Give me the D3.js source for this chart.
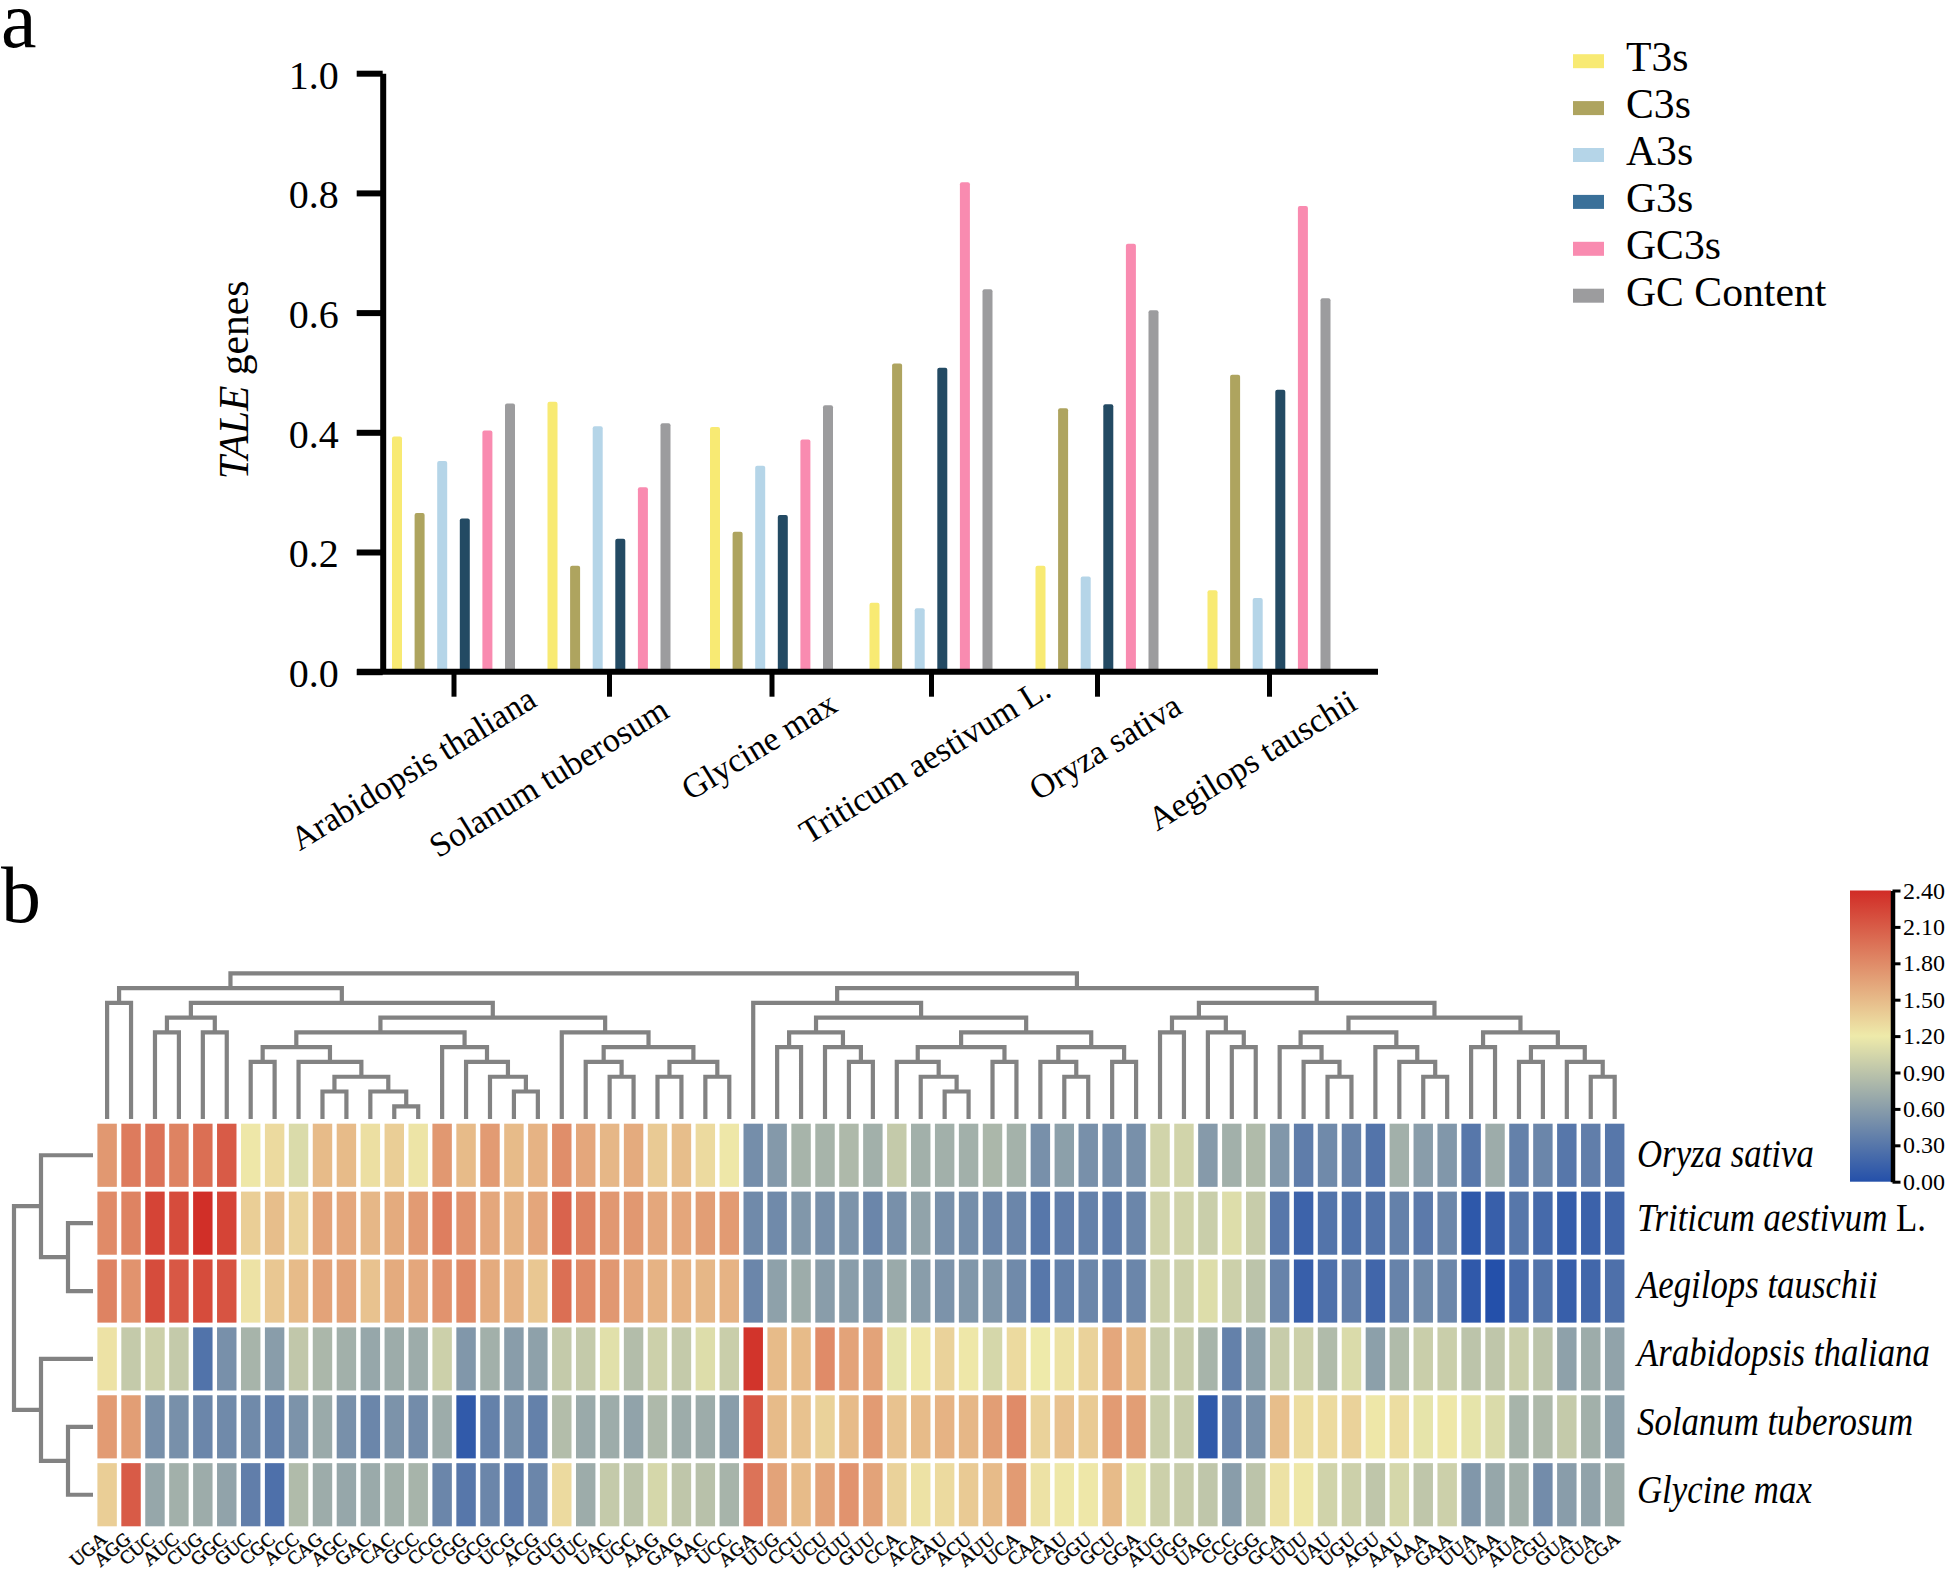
<!DOCTYPE html>
<html>
<head>
<meta charset="utf-8">
<title>TALE genes codon usage</title>
<script src="https://d3js.org/d3.v7.min.js"></script>
<style>
  body { margin: 0; background: #fff; }
  svg { display: block; }
  text { font-family: "Liberation Serif", serif; fill: #000; }
</style>
</head>
<body>
<div id="chart"></div>
<script>
// panel a
var species = ["Arabidopsis thaliana", "Solanum tuberosum", "Glycine max", "Triticum aestivum L.", "Oryza sativa", "Aegilops tauschii"];
var seriesNames = ["T3s", "C3s", "A3s", "G3s", "GC3s", "GC Content"];
var t3s = [0.393, 0.451, 0.409, 0.115, 0.177, 0.136];
var c3s = [0.265, 0.177, 0.234, 0.515, 0.44, 0.496];
var a3s = [0.352, 0.41, 0.344, 0.106, 0.159, 0.123];
var g3s = [0.256, 0.222, 0.262, 0.508, 0.447, 0.471];
var gc3s = [0.403, 0.308, 0.388, 0.818, 0.715, 0.778];
var gcContent = [0.448, 0.415, 0.445, 0.639, 0.604, 0.624];
var yTicks = [0, 0.2, 0.4, 0.6, 0.8, 1];

// panel b
var codons = ["UGA","AGG","CUC","AUC","CUG","GGC","GUC","CGC","ACC","CAG","AGC","GAC","CAC","GCC","CCG","CGG","GCG","UCG","ACG","GUG","UUC","UAC","UGC","AAG","GAG","AAC","UCC","AGA","UUG","CCU","UCU","CUU","GUU","CCA","ACA","GAU","ACU","AUU","UCA","CAA","CAU","GGU","GCU","GGA","AUG","UGG","UAG","CCC","GGG","GCA","UUU","UAU","UGU","AGU","AAU","AAA","GAA","UUA","UAA","AUA","CGU","GUA","CUA","CGA"];
var oryzaRscu = [1.72,1.9,1.95,1.85,1.98,2.1,1.22,1.3,1.08,1.5,1.5,1.27,1.38,1.24,1.72,1.5,1.7,1.5,1.55,1.78,1.62,1.52,1.6,1.4,1.48,1.3,1.22,0.48,0.57,0.78,0.78,0.82,0.75,0.95,0.75,0.75,0.75,0.8,0.76,0.5,0.62,0.5,0.48,0.5,1.03,1.03,0.58,0.75,0.83,0.55,0.35,0.45,0.4,0.28,0.75,0.6,0.55,0.3,0.72,0.38,0.42,0.3,0.36,0.3];
var triticumRscu = [1.8,1.85,2.25,2.2,2.38,2.25,1.38,1.48,1.35,1.65,1.62,1.52,1.6,1.7,1.88,1.75,1.62,1.55,1.63,2.05,1.85,1.72,1.72,1.62,1.63,1.68,1.7,0.45,0.45,0.55,0.5,0.52,0.42,0.5,0.65,0.5,0.48,0.42,0.42,0.3,0.36,0.38,0.35,0.42,1.02,1.02,0.98,1.1,0.97,0.3,0.15,0.28,0.27,0.28,0.38,0.33,0.42,0.06,0.12,0.3,0.2,0.1,0.14,0.17];
var aegilopsRscu = [1.85,1.75,2.2,2.12,2.2,2.15,1.25,1.42,1.5,1.65,1.65,1.45,1.6,1.62,1.75,1.8,1.6,1.55,1.42,1.98,1.8,1.72,1.62,1.55,1.55,1.52,1.55,0.42,0.63,0.72,0.6,0.6,0.55,0.7,0.6,0.52,0.55,0.55,0.45,0.3,0.38,0.42,0.38,0.42,1.0,1.0,1.1,1.0,0.9,0.4,0.12,0.25,0.37,0.17,0.4,0.45,0.42,0.07,0.0,0.22,0.28,0.12,0.18,0.25];
var arabidopsisRscu = [1.25,0.95,1.0,0.95,0.27,0.5,0.78,0.6,0.93,0.8,0.75,0.68,0.72,0.72,1.0,0.55,0.75,0.6,0.63,0.95,0.95,1.12,0.85,1.0,0.95,1.1,0.98,2.35,1.5,1.5,1.8,1.65,1.65,1.15,1.22,1.35,1.22,1.05,1.3,1.2,1.25,1.35,1.62,1.5,0.97,0.97,0.78,0.38,0.62,0.97,1.0,0.83,1.08,0.62,0.83,0.98,0.98,0.9,0.92,0.98,0.9,0.63,0.72,0.65];
var solanumRscu = [1.7,1.68,0.5,0.5,0.42,0.45,0.45,0.38,0.52,0.7,0.5,0.42,0.52,0.47,0.72,0.08,0.38,0.48,0.38,0.85,0.7,0.72,0.65,0.82,0.72,0.72,0.6,2.15,1.5,1.45,1.35,1.5,1.7,1.45,1.5,1.55,1.52,1.68,1.8,1.35,1.45,1.4,1.7,1.68,0.98,0.97,0.08,0.4,0.5,1.48,1.28,1.3,1.35,1.22,1.28,1.15,1.22,1.15,1.08,0.78,0.82,0.95,0.75,0.62];
var glycineRscu = [1.38,2.1,0.68,0.75,0.72,0.65,0.36,0.25,0.83,0.72,0.68,0.7,0.75,0.78,0.42,0.3,0.42,0.35,0.42,1.3,0.72,0.95,0.9,1.05,0.92,0.88,0.78,1.95,1.65,1.5,1.65,1.75,1.65,1.35,1.25,1.3,1.4,1.5,1.7,1.25,1.22,1.22,1.5,1.15,1.0,0.97,0.92,0.6,0.9,1.25,1.22,1.02,1.0,0.92,1.05,0.92,1.0,0.55,0.68,0.75,0.47,0.6,0.65,0.72];
var colorTicks = [0, 0.3, 0.6, 0.9, 1.2, 1.5, 1.8, 2.1, 2.4];

// clustering, nested pairs
var codonTree = [
  [["UGA","AGG"],
    [[["CUC","AUC"],["CUG","GGC"]],
      [[[["GUC","CGC"],["ACC",[["CAG","AGC"],["GAC",["CAC","GCC"]]]]],
        ["CCG",["CGG",["GCG",["UCG","ACG"]]]]],
       ["GUG",[["UUC",["UAC","UGC"]],[["AAG","GAG"],["AAC","UCC"]]]]]]],
  [["AGA",[[["UUG","CCU"],["UCU",["CUU","GUU"]]],
      [[["CCA",["ACA",["GAU","ACU"]]],["AUU","UCA"]],
       [["CAA",["CAU","GGU"]],["GCU","GGA"]]]]],
    [[["AUG","UGG"],["UAG",["CCC","GGG"]]],
     [[["GCA",["UUU",["UAU","UGU"]]],["AGU",["AAU",["AAA","GAA"]]]],
      [["UUA","UAA"],[["AUA","CGU"],["GUA",["CUA","CGA"]]]]]]]
];
var speciesTree = [
  ["Oryza sativa", ["Triticum aestivum L.", "Aegilops tauschii"]],
  ["Arabidopsis thaliana", ["Solanum tuberosum", "Glycine max"]]
];

var svg = d3.select("#chart").append("svg").attr("width", 1952).attr("height", 1572);

svg.append("text").attr("x", 1).attr("y", 47).attr("font-size", 80).text("a");
svg.append("text").attr("x", 1).attr("y", 922).attr("font-size", 80).text("b");

// ---- bars
var barColors = ["#f8ea73", "#aea45f", "#b5d5e8", "#234a63", "#f98bb0", "#9c9c9e"];
var legendColors = ["#f8ea73", "#aea45f", "#b5d5e8", "#3a7099", "#f98bb0", "#9c9c9e"];
var seriesValues = [t3s, c3s, a3s, g3s, gc3s, gcContent];

var x0 = d3.scaleOrdinal().domain(species).range([453.5, 609, 771.5, 931, 1097, 1269]);
var x1 = d3.scalePoint().domain(seriesNames).range([-56.5, 56.5]);
var y = d3.scaleLinear().domain([0, 1]).range([671.7, 73.2]);

seriesNames.forEach(function(name, s) {
  svg.append("g").selectAll("path")
    .data(seriesValues[s])
    .enter()
    .append("path")
    .attr("fill", barColors[s])
    .attr("d", function(d, i) {
      var left = x0(species[i]) + x1(name) - 5;
      return "M" + left + "," + y(0) + "V" + (y(d) + 2) + "q0,-2 2,-2h6q2,0 2,2V" + y(0) + "Z";
    });
});

var yAxis = svg.append("g")
  .attr("transform", "translate(382.7,0)")
  .call(d3.axisLeft(y).tickValues(yTicks).tickFormat(d3.format(".1f")).tickSize(26).tickPadding(18).tickSizeOuter(0));
yAxis.select(".domain").attr("stroke", "#000").attr("stroke-width", 6);
yAxis.selectAll(".tick line").attr("stroke", "#000").attr("stroke-width", 6);
yAxis.selectAll(".tick text")
  .attr("font-family", "Liberation Serif")
  .attr("font-size", 40)
  .attr("fill", "#000")
  .attr("dy", "0.37em");

var xAxis = svg.append("g")
  .attr("transform", "translate(0," + y(0) + ")")
  .call(d3.axisBottom(x0).tickSize(25).tickSizeOuter(0).tickFormat(""));
xAxis.select(".domain").remove();
xAxis.selectAll(".tick line").attr("stroke", "#000").attr("stroke-width", 5);
svg.append("line")
  .attr("x1", 357).attr("x2", 1378)
  .attr("y1", y(0)).attr("y2", y(0))
  .attr("stroke", "#000").attr("stroke-width", 6);

// slanted labels end at uneven places in the figure
var labelEndX = d3.scaleOrdinal().domain(species).range([538.5, 671, 839.5, 1053, 1184, 1359]);
var labelEndY = d3.scaleOrdinal().domain(species).range([705, 716, 710, 695, 712, 708]);
svg.append("g").selectAll("text")
  .data(species)
  .enter()
  .append("text")
  .attr("font-size", 34)
  .attr("fill", "#231815")
  .attr("text-anchor", "end")
  .attr("transform", function(d) {
    return "translate(" + labelEndX(d) + "," + labelEndY(d) + ") rotate(-31.5)";
  })
  .text(function(d) { return d; });

var yLabel = svg.append("text")
  .attr("transform", "translate(248,380) rotate(-90)")
  .attr("text-anchor", "middle")
  .attr("font-size", 41.5);
yLabel.append("tspan").attr("font-style", "italic").text("TALE");
yLabel.append("tspan").text(" genes");

// legend
var legendY = d3.scalePoint().domain(seriesNames).range([61.2, 295.7]);
var legend = svg.append("g").selectAll("g")
  .data(seriesNames)
  .enter()
  .append("g");
legend.append("rect")
  .attr("x", 1573).attr("width", 31).attr("height", 14)
  .attr("y", function(d) { return legendY(d) - 7; })
  .attr("fill", function(d, i) { return legendColors[i]; });
legend.append("text")
  .attr("x", 1626)
  .attr("y", function(d) { return legendY(d) + 10; })
  .attr("font-size", 41.7)
  .text(function(d) { return d; });

// ---- heatmap
var rows = ["Oryza sativa", "Triticum aestivum L.", "Aegilops tauschii", "Arabidopsis thaliana", "Solanum tuberosum", "Glycine max"];
var rowValues = [oryzaRscu, triticumRscu, aegilopsRscu, arabidopsisRscu, solanumRscu, glycineRscu];
var colX = d3.scaleBand().domain(codons).range([97.4, 1624.4]).paddingInner(0.188);
var rowY = d3.scaleBand().domain(rows).range([1123.7, 1526.3]).paddingInner(0.07);
var color = d3.scaleLinear().domain([0, 1.2, 2.4]).range(["#2450aa", "#eeeaaa", "#d12c26"]);

rows.forEach(function(row, r) {
  svg.append("g").selectAll("rect")
    .data(rowValues[r])
    .enter()
    .append("rect")
    .attr("x", function(d, i) { return colX(codons[i]); })
    .attr("y", rowY(row))
    .attr("width", colX.bandwidth())
    .attr("height", rowY.bandwidth())
    .attr("fill", function(d) { return color(d); });
});

var codonX = d3.scalePoint().domain(codons).range([108, 1621]);
svg.append("g").selectAll("text")
  .data(codons)
  .enter()
  .append("text")
  .attr("font-size", 19)
  .attr("text-anchor", "end")
  .attr("stroke", "#000")
  .attr("stroke-width", 0.4)
  .attr("transform", function(d) {
    return "translate(" + codonX(d) + ",1541) rotate(-40)";
  })
  .text(function(d) { return d; });

// row names are stretched upward in the figure
var rowLabelY = d3.scaleOrdinal().domain(rows).range([1166.7, 1231, 1298, 1365.7, 1435, 1502.7]);
var rowLabels = svg.append("g").selectAll("text")
  .data(rows)
  .enter()
  .append("text")
  .attr("transform", function(d) { return "translate(1637," + rowLabelY(d) + ") scale(1,1.18)"; })
  .attr("font-size", 34.8)
  .attr("fill", "#231815");
rowLabels.append("tspan")
  .attr("font-style", "italic")
  .text(function(d) { return d.replace(" L.", ""); });
rowLabels.append("tspan")
  .text(function(d) { return d.indexOf(" L.") > 0 ? " L." : ""; });

// dendrograms, one level per depth
function layoutTree(tree, leafPos) {
  var root = d3.hierarchy(tree, function(d) { return Array.isArray(d) ? d : null; });
  root.eachAfter(function(n) {
    n.pos = n.children ? d3.mean(n.children, function(c) { return c.pos; }) : leafPos(n.data);
  });
  return root;
}

var topDepth = d3.scaleLinear().domain([0, 9]).range([973.3, 1106.3]);
var topRoot = layoutTree(codonTree, function(d) { return colX(d) + colX.bandwidth() / 2; });
svg.append("path")
  .attr("fill", "none").attr("stroke", "#828282").attr("stroke-width", 4.2)
  .attr("d", topRoot.descendants().filter(function(n) { return n.children; }).map(function(n) {
    var a = n.children[0], b = n.children[1];
    var ya = a.children ? topDepth(a.depth) : 1119;
    var yb = b.children ? topDepth(b.depth) : 1119;
    return "M" + a.pos + "," + ya + "V" + topDepth(n.depth) + "H" + b.pos + "V" + yb;
  }).join(""));

var sideDepth = d3.scaleLinear().domain([0, 2]).range([14, 68]);
var sideRoot = layoutTree(speciesTree, function(d) { return rowY(d) + rowY.bandwidth() / 2; });
svg.append("path")
  .attr("fill", "none").attr("stroke", "#828282").attr("stroke-width", 4.2)
  .attr("d", sideRoot.descendants().filter(function(n) { return n.children; }).map(function(n) {
    var a = n.children[0], b = n.children[1];
    var xa = a.children ? sideDepth(a.depth) : 93;
    var xb = b.children ? sideDepth(b.depth) : 93;
    return "M" + xa + "," + a.pos + "H" + sideDepth(n.depth) + "V" + b.pos + "H" + xb;
  }).join(""));

// colour bar
var barY = d3.scaleLinear().domain([0, 2.4]).range([1181.7, 890.5]);
var grad = svg.append("defs").append("linearGradient")
  .attr("id", "rscu").attr("x1", 0).attr("x2", 0).attr("y1", 1).attr("y2", 0);
grad.selectAll("stop")
  .data(color.domain())
  .enter()
  .append("stop")
  .attr("offset", function(d) { return d / 2.4; })
  .attr("stop-color", function(d) { return color(d); });
svg.append("rect")
  .attr("x", 1850).attr("width", 41)
  .attr("y", barY(2.4)).attr("height", barY(0) - barY(2.4))
  .attr("fill", "url(#rscu)");
var barAxis = svg.append("g")
  .attr("transform", "translate(1892.5,0)")
  .call(d3.axisRight(barY).tickValues(colorTicks).tickFormat(d3.format(".2f")).tickSize(8).tickPadding(2.5).tickSizeOuter(0));
barAxis.select(".domain").attr("stroke", "#000").attr("stroke-width", 4.5);
barAxis.selectAll(".tick line").attr("stroke", "#000").attr("stroke-width", 3);
barAxis.selectAll(".tick text").attr("font-family", "Liberation Serif").attr("font-size", 24).attr("fill", "#000");
</script>
</body>
</html>
